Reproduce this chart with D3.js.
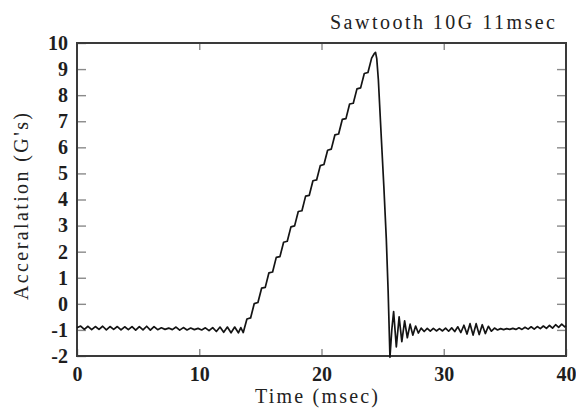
<!DOCTYPE html>
<html>
<head>
<meta charset="utf-8">
<script src="https://cdn.jsdelivr.net/npm/d3@7"></script>
<style>
  body { margin: 0; background: #fff; }
  svg { display: block; }
</style>
</head>
<body>
<div id="chart"></div>
<script>
// values (msec, G)
const timeMs = [
  0, 0.3, 0.6, 0.9, 1.2, 1.5, 1.8, 2.1, 2.4, 2.7, 3.0, 3.3, 3.6, 3.9, 4.2, 4.5, 4.8, 5.1, 5.4, 5.7,
  6.0, 6.3, 6.6, 6.9, 7.2, 7.5, 7.8, 8.1, 8.4, 8.7, 9.0, 9.3, 9.6, 9.9, 10.2, 10.5, 10.8, 11.1, 11.4, 11.7,
  12.0, 12.3, 12.6, 12.9, 13.2, 13.4, 13.6,
  13.9, 14.2, 14.5, 14.8, 15.1, 15.4, 15.7, 16.0, 16.3, 16.6, 16.9, 17.2, 17.5, 17.8, 18.1, 18.4, 18.7,
  19.0, 19.3, 19.6, 19.9, 20.2, 20.5, 20.8, 21.1, 21.4, 21.7, 22.0, 22.3, 22.6, 22.9, 23.2, 23.5, 23.8, 24.1,
  24.3, 24.42, 24.52, 24.65, 24.9, 25.1, 25.3, 25.45, 25.6,
  25.75, 25.9, 26.12, 26.35, 26.57, 26.8, 27.02, 27.25, 27.47, 27.7, 27.92,
  28.15, 28.4, 28.65, 28.9, 29.15, 29.4, 29.65, 29.9, 30.15, 30.4, 30.65, 30.9, 31.15, 31.4, 31.65, 31.9,
  32.15, 32.4, 32.65, 32.9, 33.15, 33.4, 33.65, 33.9, 34.15, 34.4, 34.65, 34.9, 35.15, 35.4, 35.65, 35.9,
  36.15, 36.4, 36.65, 36.9, 37.15, 37.4, 37.65, 37.9, 38.15, 38.4, 38.65, 38.9, 39.15, 39.4, 39.65, 39.9, 40
];
const accelG = [
  -0.92, -0.85, -0.98, -0.86, -0.99, -0.87, -0.98, -0.86, -1.0, -0.87, -0.98, -0.87, -1.0, -0.88, -0.99, -0.87, -1.01, -0.87, -1.0, -0.86,
  -1.01, -0.87, -0.99, -0.92, -0.98, -0.93, -0.99, -0.89, -1.01, -0.91, -1.0, -0.93, -0.99, -0.94, -1.0, -0.92, -1.03, -0.91, -1.06, -0.89,
  -1.09, -0.89, -1.11, -0.89, -1.11, -0.91, -1.1,
  -0.58, -0.54, 0.01, 0.05, 0.6, 0.63, 1.19, 1.22, 1.78, 1.81, 2.36, 2.4, 2.95, 2.99, 3.54, 3.57, 4.13,
  4.16, 4.72, 4.75, 5.3, 5.34, 5.89, 5.93, 6.48, 6.51, 7.07, 7.1, 7.66, 7.69, 8.24, 8.28, 8.83, 8.87, 9.42,
  9.58, 9.64, 9.4, 8.6, 6.3, 4.5, 2.5, 0.5, -2.05,
  -1.0, -0.3, -1.65, -0.5, -1.45, -0.65, -1.3, -0.78, -1.2, -0.85, -1.12,
  -0.93, -1.06, -0.94, -1.05, -0.94, -1.04, -0.95, -1.04, -0.93, -1.05, -0.92, -1.06, -0.88, -1.1, -0.82, -1.16,
  -0.76, -1.2, -0.76, -1.18, -0.8, -1.14, -0.86, -1.05, -0.93, -1.0, -0.95, -0.99, -0.95, -0.98, -0.94, -0.98,
  -0.92, -0.98, -0.9, -0.97, -0.88, -0.97, -0.87, -0.95, -0.85, -0.94, -0.83, -0.93, -0.8, -0.9, -0.78, -0.88, -0.84
];
const xTicks = [0, 10, 20, 30, 40];
const yTicks = [-2, -1, 0, 1, 2, 3, 4, 5, 6, 7, 8, 9, 10];
const yTickLabels = ["-2", "-1", "0", "1", "2", "3", "4", "5", "6", "7", "8", "9", "10"];

const width = 576, height = 408;
const margin = { top: 43, right: 10, bottom: 52, left: 77 };
const serif = "'Liberation Serif', 'DejaVu Serif', serif";

const svg = d3.select("#chart").append("svg")
  .attr("width", width)
  .attr("height", height);

const x = d3.scaleLinear().domain([0, 40]).range([margin.left, width - margin.right]);
const y = d3.scaleLinear().domain([-2, 10]).range([height - margin.bottom, margin.top]);

const points = timeMs.map((t, i) => [t, accelG[i]]);

// ticks (inside the frame)
const tickStyle = g => {
  g.select(".domain").remove();
  g.selectAll(".tick line").attr("stroke", "#8a8a8a").attr("stroke-width", 1.4);
  g.selectAll(".tick text")
    .attr("fill", "#1e1e1e")
    .style("font-family", serif)
    .style("font-size", "20px")
    .style("font-weight", "bold");
};

svg.append("g")
  .attr("transform", `translate(0,${y(-2)})`)
  .call(d3.axisBottom(x).tickValues(xTicks).tickSizeInner(-7).tickSizeOuter(0).tickPadding(11))
  .call(tickStyle);

svg.append("g")
  .attr("transform", `translate(0,${y(10)})`)
  .call(d3.axisTop(x).tickValues(xTicks.slice(1, -1)).tickSizeInner(-7).tickSizeOuter(0).tickFormat(""))
  .call(tickStyle);

svg.append("g")
  .attr("transform", `translate(${x(0)},0)`)
  .call(d3.axisLeft(y).tickValues(yTicks).tickSizeInner(-9).tickSizeOuter(0).tickPadding(9)
    .tickFormat((d, i) => yTickLabels[i]))
  .call(tickStyle);

svg.append("g")
  .attr("transform", `translate(${x(40)},0)`)
  .call(d3.axisRight(y).tickValues(yTicks.slice(1, -1)).tickSizeInner(-9).tickSizeOuter(0).tickFormat(""))
  .call(tickStyle);

// frame
svg.append("rect")
  .attr("x", x(0))
  .attr("y", y(10))
  .attr("width", x(40) - x(0))
  .attr("height", y(-2) - y(10))
  .attr("fill", "none")
  .attr("stroke", "#3a3a3a")
  .attr("stroke-width", 2);

// trace
const line = d3.line()
  .x(d => x(d[0]))
  .y(d => y(d[1]));

svg.append("path")
  .datum(points)
  .attr("d", line)
  .attr("fill", "none")
  .attr("stroke", "#141414")
  .attr("stroke-width", 1.7)
  .attr("stroke-linejoin", "round");

// labels
svg.append("text")
  .attr("x", 330)
  .attr("y", 29)
  .attr("textLength", 225)
  .attr("lengthAdjust", "spacing")
  .style("font-family", serif)
  .style("font-size", "20px")
  .attr("fill", "#222")
  .text("Sawtooth 10G 11msec");

svg.append("text")
  .attr("x", 255)
  .attr("y", 403)
  .attr("textLength", 123)
  .attr("lengthAdjust", "spacing")
  .style("font-family", serif)
  .style("font-size", "20px")
  .attr("fill", "#222")
  .text("Time (msec)");

svg.append("text")
  .attr("transform", "translate(28,300) rotate(-90)")
  .attr("textLength", 187)
  .attr("lengthAdjust", "spacing")
  .style("font-family", serif)
  .style("font-size", "20px")
  .attr("fill", "#222")
  .text("Acceralation (G's)");
</script>
</body>
</html>
